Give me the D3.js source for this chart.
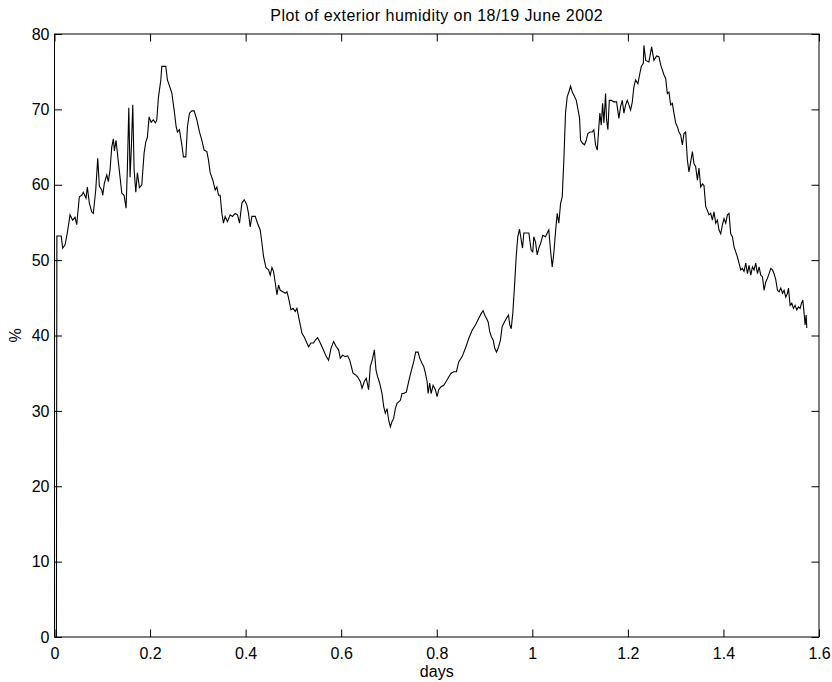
<!DOCTYPE html>
<html lang="en">
  <head>
    <meta charset="UTF-8" />
    <title>Exterior humidity</title>
    <script src="https://d3js.org/d3.v7.min.js"></script>
    <style>
      body {
        margin: 0;
        background: #fff;
      }
      svg text {
        font-family: 'Liberation Sans', Arial, Helvetica, sans-serif;
        fill: #000;
      }
      .tick line {
        stroke: #000;
      }
    </style>
  </head>
  <body>
    <div id="chart"></div>
    <script>
      // humidity trace (days, %)
      const days = [
        0.004, 0.005, 0.014, 0.0172, 0.022, 0.0268, 0.0325, 0.0381, 0.043, 0.0465,
        0.052, 0.057, 0.0603, 0.066, 0.0687, 0.0729, 0.0779, 0.0813, 0.0863, 0.0905,
        0.0939, 0.0989, 0.101, 0.1043, 0.1094, 0.1127, 0.1163, 0.1198, 0.1232, 0.1253,
        0.1288, 0.1337, 0.1372, 0.1408, 0.1456, 0.1498, 0.1525, 0.1555, 0.1582, 0.1609,
        0.1638, 0.1666, 0.1701, 0.1735, 0.1777, 0.1827, 0.1875, 0.1911, 0.1944, 0.198,
        0.2022, 0.207, 0.2112, 0.2141, 0.2175, 0.2225, 0.2246, 0.233, 0.2363, 0.2455,
        0.2504, 0.2546, 0.2573, 0.2615, 0.2665, 0.2698, 0.2749, 0.2782, 0.2824, 0.2874,
        0.2923, 0.2979, 0.3034, 0.3084, 0.3132, 0.3189, 0.3222, 0.3258, 0.3314, 0.3363,
        0.3398, 0.3432, 0.3467, 0.3503, 0.3536, 0.3572, 0.362, 0.3677, 0.3725, 0.3782,
        0.383, 0.3872, 0.3922, 0.397, 0.4027, 0.406, 0.4096, 0.4131, 0.4201, 0.4249,
        0.4305, 0.4341, 0.4375, 0.4425, 0.4479, 0.4515, 0.4551, 0.4584, 0.462, 0.4655,
        0.4689, 0.4724, 0.4781, 0.4829, 0.4865, 0.4898, 0.4949, 0.4991, 0.5039, 0.5074,
        0.5108, 0.5143, 0.5179, 0.5227, 0.5269, 0.5317, 0.5368, 0.5422, 0.5458, 0.5506,
        0.5548, 0.5598, 0.5646, 0.5688, 0.5736, 0.5787, 0.5841, 0.5898, 0.5946, 0.5981,
        0.603, 0.6086, 0.6134, 0.6176, 0.6248, 0.6296, 0.6344, 0.64, 0.6436, 0.6484,
        0.6526, 0.6574, 0.661, 0.6652, 0.6694, 0.6729, 0.6763, 0.6805, 0.6855, 0.6889,
        0.6924, 0.696, 0.6993, 0.7029, 0.7065, 0.7098, 0.7134, 0.7169, 0.7203, 0.7239,
        0.7274, 0.7308, 0.7364, 0.7413, 0.7463, 0.7517, 0.7559, 0.7609, 0.7643, 0.7693,
        0.7727, 0.7762, 0.7798, 0.7819, 0.7852, 0.7882, 0.7924, 0.7972, 0.8007, 0.8041,
        0.8091, 0.8146, 0.8196, 0.825, 0.8301, 0.8355, 0.8412, 0.846, 0.8531, 0.86,
        0.8669, 0.8741, 0.881, 0.8879, 0.8929, 0.8971, 0.9005, 0.904, 0.9076, 0.9109,
        0.9145, 0.9181, 0.9214, 0.925, 0.9285, 0.9333, 0.9369, 0.9417, 0.9459, 0.9501,
        0.9528, 0.9558, 0.9591, 0.9627, 0.9663, 0.9696, 0.9732, 0.9767, 0.9795, 0.9822,
        0.9878, 0.9927, 0.9977, 1.001, 1.0031, 1.0067, 1.0102, 1.0136, 1.0172, 1.022,
        1.0276, 1.0312, 1.0345, 1.0381, 1.0417, 1.045, 1.0486, 1.0521, 1.0555, 1.0591,
        1.0626, 1.066, 1.0695, 1.0731, 1.0765, 1.08, 1.0836, 1.0869, 1.092, 1.0953,
        1.0989, 1.101, 1.1051, 1.1093, 1.1129, 1.1163, 1.1205, 1.1255, 1.1288, 1.1324,
        1.136, 1.1393, 1.1414, 1.1443, 1.1471, 1.1498, 1.1533, 1.1554, 1.1582, 1.1611,
        1.1653, 1.1707, 1.1764, 1.1812, 1.1848, 1.1883, 1.1917, 1.1953, 1.1988, 1.2022,
        1.2057, 1.2093, 1.2126, 1.2162, 1.221, 1.2246, 1.2281, 1.2323, 1.2336, 1.2372,
        1.2441, 1.2497, 1.2545, 1.2602, 1.265, 1.2686, 1.2755, 1.2791, 1.2826, 1.286,
        1.2895, 1.2931, 1.2964, 1.3, 1.3035, 1.3069, 1.3105, 1.314, 1.3174, 1.3209,
        1.3245, 1.3278, 1.3314, 1.335, 1.3383, 1.3419, 1.3455, 1.3488, 1.3524, 1.356,
        1.3593, 1.3629, 1.3664, 1.3698, 1.3733, 1.3769, 1.3802, 1.3838, 1.3874, 1.3907,
        1.3943, 1.3979, 1.4012, 1.4048, 1.4083, 1.4117, 1.4152, 1.4188, 1.4221, 1.4257,
        1.4293, 1.4326, 1.4362, 1.4397, 1.4431, 1.4467, 1.4502, 1.4536, 1.4572, 1.4607,
        1.4641, 1.4676, 1.4712, 1.4746, 1.4781, 1.4817, 1.485, 1.4886, 1.4921, 1.4955,
        1.4991, 1.5026, 1.506, 1.5095, 1.5131, 1.5164, 1.52, 1.5236, 1.5269, 1.5305,
        1.534, 1.5361, 1.5395, 1.543, 1.5466, 1.55, 1.5535, 1.5571, 1.5604, 1.5634,
        1.5661, 1.5689, 1.571, 1.5731, 1.5745
      ];

      const humidity = [
        0, 53.2, 53.2, 51.6, 52.0, 53.6, 56.0, 55.3, 55.7, 54.7,
        58.4, 58.6, 59.0, 58.2, 59.7, 57.6, 56.4, 56.2, 59.3, 63.5,
        59.8, 59.3, 58.6, 60.2, 61.3, 60.4, 62.0, 65.0, 66.1, 64.5,
        65.9, 63.0, 61.0, 58.9, 58.6, 56.9, 62.1, 70.2, 61.0, 65.0,
        70.6, 62.0, 59.0, 61.6, 59.6, 60.0, 64.2, 65.7, 66.3, 69.0,
        68.3, 68.6, 68.2, 68.6, 71.6, 73.9, 75.7, 75.7, 73.9, 72.2,
        69.9, 67.7, 67.0, 67.3, 65.3, 63.7, 63.7, 67.7, 69.5, 69.8,
        69.8, 68.6, 67.0, 65.9, 64.6, 64.4, 63.3, 61.6, 60.6, 59.3,
        59.7, 58.6, 58.6, 56.2, 54.9, 55.8, 55.1, 56.0, 55.8, 56.2,
        56.0, 54.9, 57.6, 58.0, 57.3, 56.2, 54.4, 55.8, 55.8, 54.9,
        54.0, 52.3, 50.5, 49.0, 48.7, 48.0, 49.0, 48.5, 47.0, 45.4,
        46.7, 46.0, 45.8, 45.6, 45.8, 45.0, 43.4, 43.6, 43.2, 43.6,
        42.5, 41.4, 40.3, 39.8, 39.2, 38.5, 39.0, 39.0, 39.4, 39.7,
        39.2, 38.5, 37.8, 37.2, 36.7, 38.3, 39.2, 38.5, 38.1, 37.0,
        37.4, 37.2, 37.3, 36.8, 35.0, 34.8, 34.5, 33.9, 33.0, 33.9,
        34.3, 32.8, 35.9, 36.8, 38.1, 35.4, 34.5, 33.7, 32.3, 30.6,
        29.7, 30.3, 28.8, 27.9, 28.6, 29.0, 30.3, 31.0, 31.2, 31.4,
        32.3, 32.3, 32.5, 33.9, 35.2, 36.5, 37.8, 37.8, 37.0, 36.3,
        35.9, 35.0, 33.9, 32.3, 33.7, 32.3, 33.4, 32.8, 31.9, 32.8,
        33.2, 33.4, 33.9, 34.5, 35.0, 35.2, 35.2, 36.5, 37.2, 38.3,
        39.6, 40.7, 41.4, 42.3, 42.9, 43.3, 42.7, 42.3, 41.8, 40.5,
        39.8, 39.4, 38.3, 37.8, 38.3, 39.4, 41.2, 41.8, 42.3, 42.7,
        41.4, 40.9, 42.9, 46.5, 50.5, 53.1, 54.1, 52.7, 51.6, 53.6,
        53.6, 53.6, 51.3, 51.1, 53.1, 52.4, 50.7, 51.6, 52.2, 53.3,
        53.1, 53.6, 54.0, 51.3, 49.1, 50.9, 53.8, 56.2, 54.9, 57.5,
        58.4, 63.3, 69.5, 71.7, 72.3, 73.1, 72.3, 71.9, 71.2, 70.1,
        68.8, 65.9, 65.5, 65.3, 65.9, 66.8, 67.0, 67.0, 67.3, 65.3,
        64.6, 67.7, 69.5, 67.9, 70.8, 68.2, 72.1, 68.6, 67.3, 71.2,
        71.2, 71.0, 71.0, 68.8, 70.4, 71.2, 69.5, 70.6, 71.2, 70.6,
        69.9, 71.0, 73.0, 73.9, 73.4, 74.6, 75.7, 76.1, 78.5, 76.5,
        76.3, 78.3, 76.5, 77.1, 77.0, 75.9, 74.6, 74.1, 72.1, 72.3,
        70.6, 70.8, 69.5, 68.2, 67.7, 67.0, 66.6, 65.3, 66.8, 67.0,
        63.3, 61.7, 63.0, 64.4, 62.8, 62.4, 60.6, 62.2, 59.7, 60.1,
        59.9, 57.1, 56.6, 56.0, 56.2, 55.3, 56.4, 54.9, 55.3, 54.0,
        53.5, 54.7, 55.5, 54.9, 56.0, 56.2, 53.5, 53.1, 51.8, 51.1,
        50.4, 49.6, 48.7, 48.9, 48.5, 49.6, 48.2, 49.3, 48.0, 49.1,
        48.7, 49.6, 48.2, 49.1, 48.0, 47.8, 46.0, 47.1, 47.6, 48.2,
        48.9, 48.7, 48.2, 47.4, 46.0, 45.8, 46.3, 45.6, 46.0, 45.1,
        45.6, 46.3, 44.0, 44.3, 43.6, 44.0, 43.4, 43.8, 43.6, 44.3,
        44.7, 42.9, 41.4, 42.7, 41.0
      ];

      const xTicks = [0, 0.2, 0.4, 0.6, 0.8, 1, 1.2, 1.4, 1.6];
      const yTicks = [0, 10, 20, 30, 40, 50, 60, 70, 80];

      const titleText = 'Plot of exterior humidity on 18/19 June 2002';
      const xLabel = 'days';
      const yLabel = '%';

      const margin = { top: 34, right: 13, bottom: 45, left: 54.5 };
      const totalW = 832;
      const totalH = 682;
      const width = totalW - margin.left - margin.right;
      const height = totalH - margin.top - margin.bottom;

      const svg = d3
        .select('#chart')
        .append('svg')
        .attr('width', totalW)
        .attr('height', totalH);

      const g = svg
        .append('g')
        .attr('transform', `translate(${margin.left},${margin.top})`);

      const x = d3.scaleLinear().domain([0, 1.6]).range([0, width]);
      const y = d3.scaleLinear().domain([0, 80]).range([height, 0]);

      const tickLen = 7.5;
      const fmt = (d) => String(d);

      // axes with inward ticks, matlab style
      const styleAxis = (sel) => {
        sel.select('.domain').remove();
        sel.selectAll('text').style('font-size', '16px');
      };

      g.append('g')
        .attr('transform', `translate(0,${height})`)
        .call(
          d3.axisBottom(x).tickValues(xTicks).tickFormat(fmt)
            .tickSizeInner(-tickLen).tickSizeOuter(0).tickPadding(11)
        )
        .call(styleAxis);

      g.append('g')
        .call(
          d3.axisTop(x).tickValues(xTicks).tickFormat('')
            .tickSizeInner(-tickLen).tickSizeOuter(0)
        )
        .call(styleAxis);

      g.append('g')
        .call(
          d3.axisLeft(y).tickValues(yTicks).tickFormat(fmt)
            .tickSizeInner(-tickLen).tickSizeOuter(0).tickPadding(5)
        )
        .call(styleAxis);

      g.append('g')
        .attr('transform', `translate(${width},0)`)
        .call(
          d3.axisRight(y).tickValues(yTicks).tickFormat('')
            .tickSizeInner(-tickLen).tickSizeOuter(0)
        )
        .call(styleAxis);

      g.append('rect')
        .attr('width', width)
        .attr('height', height)
        .attr('fill', 'none')
        .attr('stroke', '#000')
        .attr('stroke-width', 1);

      const pts = days.map((d, i) => [d, humidity[i]]);

      const line = d3
        .line()
        .x((d) => x(d[0]))
        .y((d) => y(d[1]));

      g.append('path')
        .datum(pts)
        .attr('d', line)
        .attr('fill', 'none')
        .attr('stroke', '#000')
        .attr('stroke-width', 1.1)
        .attr('stroke-linejoin', 'miter');

      // title and labels
      svg
        .append('text')
        .attr('x', margin.left + width / 2)
        .attr('y', 21)
        .attr('text-anchor', 'middle')
        .style('font-size', '16px')
        .style('letter-spacing', '0.45px')
        .text(titleText);

      svg
        .append('text')
        .attr('x', margin.left + width / 2)
        .attr('y', 677)
        .attr('text-anchor', 'middle')
        .style('font-size', '16px')
        .text(xLabel);

      svg
        .append('text')
        .attr('transform', `translate(21,${margin.top + height / 2}) rotate(-90)`)
        .attr('text-anchor', 'middle')
        .style('font-size', '16px')
        .text(yLabel);
    </script>
  </body>
</html>
